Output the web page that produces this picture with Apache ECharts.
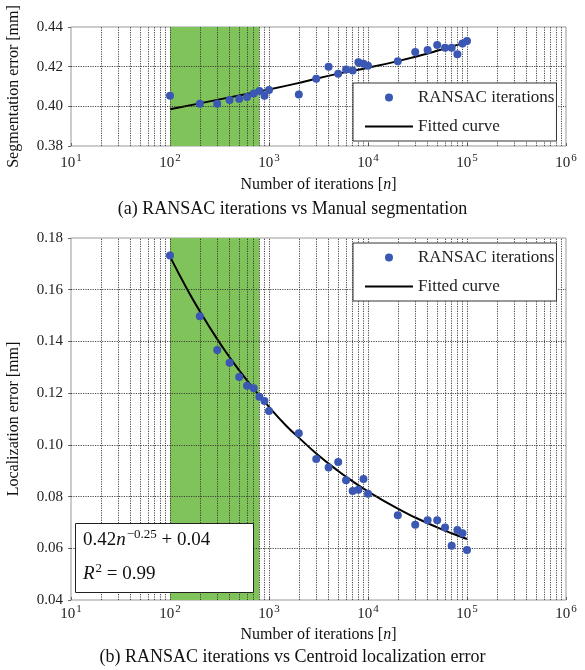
<!DOCTYPE html>
<html><head><meta charset="utf-8">
<script src="https://cdn.jsdelivr.net/npm/echarts@6/dist/echarts.min.js"></script>
<style>html,body{margin:0;padding:0;background:#fff}#c{width:585px;height:670px}</style>
</head><body><div id="c"></div>
<script>
// ---- data ----
const iterN = [100,200,300,400,500,600,700,800,900,1000,2000,3000,4000,5000,6000,7000,8000,9000,10000,20000,30000,40000,50000,60000,70000,80000,90000,100000];
const segErr = [0.4053,0.4013,0.4013,0.4032,0.4037,0.4047,0.4065,0.4077,0.4053,0.4082,0.4060,0.4139,0.4200,0.4164,0.4186,0.4181,0.4222,0.4215,0.4205,0.4227,0.4274,0.4284,0.4309,0.4295,0.4295,0.4262,0.4317,0.4330];
const locErr = [0.1732,0.1497,0.1367,0.1318,0.1262,0.1229,0.1219,0.1186,0.1170,0.1131,0.1045,0.0945,0.0912,0.0934,0.0863,0.0822,0.0826,0.0868,0.0811,0.0728,0.0691,0.0708,0.0708,0.0680,0.0610,0.0671,0.0658,0.0593];
const segFitN = [100,200,500,1000,2000,5000,10000,20000,50000,100000];
const segFit = [0.3985,0.4015,0.4055,0.4085,0.4118,0.4165,0.4195,0.4228,0.4280,0.4325];
const locFitN = [100,150,200,300,400,500,700,1000,1500,2000,3000,5000,7000,10000,20000,30000,50000,70000,100000];
const locFit = [0.1728,0.1600,0.1517,0.1409,0.1339,0.1288,0.1217,0.1147,0.1073,0.1028,0.0967,0.0899,0.0859,0.0820,0.0753,0.0719,0.0681,0.0658,0.0636];
const greenRange = [100, 800];
const xMajor = [100,1000,10000,100000];
const xMinor = [20,30,40,50,60,70,80,90,200,300,400,500,600,700,800,900,2000,3000,4000,5000,6000,7000,8000,9000,20000,30000,40000,50000,60000,70000,80000,90000,200000,300000,400000,500000,600000,700000,800000,900000];
const yGridTop = [0.40,0.42];
const yGridBot = [0.06,0.08,0.10,0.12,0.14,0.16];
const scatterName = 'RANSAC iterations';
const fitName = 'Fitted curve';

const SERIF = '"Liberation Serif","Times New Roman",serif';
const blue = '#3a57b4', green = '#80c35a', gridCol = '#333';

function pairs(xs, ys){ return xs.map((x,i)=>[x, ys[i]]); }
function gridSeries(idx, yVals){
  const data = xMajor.concat(xMinor).map(v=>({xAxis:v})).concat(yVals.map(v=>({yAxis:v})));
  return {
    type:'line', xAxisIndex:idx, yAxisIndex:idx, data:[], z:3, silent:true,
    markLine:{silent:true, symbol:['none','none'], label:{show:false}, animation:false,
      lineStyle:{color:gridCol, type:[1.2,1.2], width:0.9}, data:data}
  };
}
function areaSeries(idx){
  return {type:'line', xAxisIndex:idx, yAxisIndex:idx, data:[], z:1, silent:true,
    markArea:{silent:true, itemStyle:{color:green, opacity:1}, label:{show:false},
      data:[[{xAxis:greenRange[0]},{xAxis:greenRange[1]}]]}};
}
const supStyle = {fontSize:11, fontFamily:SERIF, color:'#222', verticalAlign:'top', padding:[0,0,10,1]};
function xAx(idx, margin, gap){
  return {type:'log', logBase:10, gridIndex:idx, min:10, max:1000000,
    name:'Number of iterations [{i|n}]', nameLocation:'middle', nameGap:gap,
    nameTextStyle:{fontFamily:SERIF, fontSize:16, color:'#111', rich:{i:{fontFamily:SERIF, fontStyle:'italic', fontSize:16, color:'#111'}}},
    axisLine:{show:false}, splitLine:{show:false},
    axisTick:{show:true, inside:true, length:3, lineStyle:{color:'#666'}},
    axisLabel:{margin:margin, color:'#222', fontFamily:SERIF, fontSize:15,
      formatter:v=>'10{s|'+Math.round(Math.log10(v))+'}',
      rich:{s:supStyle}}
  };
}
function yAx(idx, min, max, name){
  return {type:'value', gridIndex:idx, min:min, max:max, interval:0.02,
    name:name, nameLocation:'middle', nameGap:49,
    nameTextStyle:{fontFamily:SERIF, fontSize:16, color:'#111'},
    axisLine:{show:false}, splitLine:{show:false},
    axisTick:{show:true, inside:false, length:3, lineStyle:{color:'#666'}},
    axisLabel:{margin:8, color:'#222', fontFamily:SERIF, fontSize:15, formatter:v=>v.toFixed(2)}
  };
}
function legendAt(top){
  return {orient:'vertical', left:353, top:top, width:200, itemWidth:48, itemHeight:8, itemGap:12,
    padding:[6,2,6,12], borderColor:'#333', borderWidth:1, backgroundColor:'#fff', z:10,
    textStyle:{fontFamily:SERIF, fontSize:17, color:'#222'},
    data:[{name:scatterName, icon:'circle', itemStyle:{color:blue, opacity:1}},
          {name:fitName, icon:'path://M0,0 L48,0 L48,2 L0,2 Z', itemStyle:{color:'#000'}}]};
}

const chart = echarts.init(document.getElementById('c'), null, {renderer:'canvas'});
chart.setOption({
  animation:false,
  backgroundColor:'#fff',
  title:[
    {text:'(a) RANSAC iterations vs Manual segmentation', left:'center', top:195,
      textStyle:{fontFamily:SERIF, fontSize:18, fontWeight:'normal', color:'#111'}},
    {text:'(b) RANSAC iterations vs Centroid localization error', left:'center', top:643,
      textStyle:{fontFamily:SERIF, fontSize:18, fontWeight:'normal', color:'#111'}}
  ],
  grid:[
    {left:71, right:19, top:27, height:119, show:true, borderColor:'#999', borderWidth:1, backgroundColor:'transparent', outerBoundsMode:'none', containLabel:false},
    {left:71, right:19, top:238, height:362, show:true, borderColor:'#999', borderWidth:1, backgroundColor:'transparent', outerBoundsMode:'none', containLabel:false}
  ],
  xAxis:[xAx(0, 7, 31), xAx(1, 4, 27)],
  yAxis:[yAx(0, 0.38, 0.44, 'Segmentation error [mm]'), yAx(1, 0.04, 0.18, 'Localization error [mm]')],
  legend:[legendAt(83), legendAt(243)],
  series:[
    areaSeries(0), gridSeries(0, yGridTop),
    {name:fitName, type:'line', xAxisIndex:0, yAxisIndex:0, data:pairs(segFitN, segFit), smooth:true, symbol:'none', z:4,
      lineStyle:{color:'#000', width:2}, itemStyle:{color:'#000'}},
    {name:scatterName, type:'scatter', xAxisIndex:0, yAxisIndex:0, data:pairs(iterN, segErr), symbolSize:8, z:5,
      itemStyle:{color:blue, opacity:1}},
    areaSeries(1), gridSeries(1, yGridBot),
    {name:fitName, type:'line', xAxisIndex:1, yAxisIndex:1, data:pairs(locFitN, locFit), smooth:true, symbol:'none', z:4,
      lineStyle:{color:'#000', width:2}, itemStyle:{color:'#000'}},
    {name:scatterName, type:'scatter', xAxisIndex:1, yAxisIndex:1, data:pairs(iterN, locErr), symbolSize:8, z:5,
      itemStyle:{color:blue, opacity:1}}
  ],
  graphic:[
    {type:'rect', left:75, top:523, z:20, shape:{width:178, height:69}, style:{fill:'#fff', stroke:'#222', lineWidth:1}},
    {type:'text', left:83, top:528, z:21, style:{
      text:'0.42{i|n}{s|−0.25} + 0.04', fontFamily:SERIF, fontSize:19, fill:'#111',
      rich:{i:{fontFamily:SERIF, fontStyle:'italic', fontSize:19, fill:'#111'},
            s:{fontFamily:SERIF, fontSize:13, fill:'#111', verticalAlign:'top', padding:[0,0,11,1]}}}},
    {type:'text', left:83, top:562, z:21, style:{
      text:'{i|R}{s|2} = 0.99', fontFamily:SERIF, fontSize:19, fill:'#111',
      rich:{i:{fontFamily:SERIF, fontStyle:'italic', fontSize:19, fill:'#111'},
            s:{fontFamily:SERIF, fontSize:13, fill:'#111', verticalAlign:'top', padding:[0,0,11,1]}}}}
  ]
});
</script></body></html>
